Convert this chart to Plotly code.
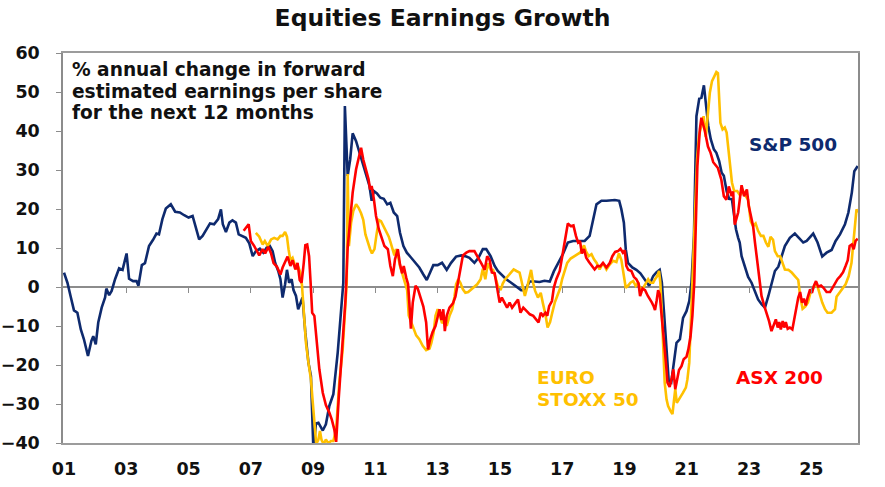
import plotly.graph_objects as go

# ---------------- data ----------------
sp500_year = [2001.00, 2001.11, 2001.21, 2001.32, 2001.43, 2001.54, 2001.64, 2001.77, 2001.88, 2001.94,
              2002.02, 2002.10, 2002.21, 2002.32, 2002.36, 2002.45, 2002.53, 2002.64, 2002.77, 2002.88,
              2003.01, 2003.09, 2003.22, 2003.33, 2003.39, 2003.50, 2003.60, 2003.73, 2003.86, 2003.97,
              2004.05, 2004.16, 2004.27, 2004.43, 2004.57, 2004.72, 2004.86, 2005.00, 2005.13, 2005.23,
              2005.34, 2005.45, 2005.55, 2005.69, 2005.82, 2005.95, 2006.04, 2006.10, 2006.20, 2006.31,
              2006.41, 2006.52, 2006.61, 2006.71, 2006.84, 2006.95, 2007.06, 2007.16, 2007.29, 2007.40,
              2007.51, 2007.61, 2007.70, 2007.78, 2007.88, 2007.95, 2008.02, 2008.10, 2008.16, 2008.23,
              2008.31, 2008.37, 2008.45, 2008.52, 2008.59, 2008.66, 2008.75, 2008.85, 2008.93, 2009.01,
              2009.09, 2009.17, 2009.31, 2009.41, 2009.52, 2009.65, 2009.79, 2009.90, 2009.97, 2010.02,
              2010.11, 2010.19, 2010.27, 2010.38, 2010.49, 2010.59, 2010.70, 2010.81, 2010.88, 2010.95,
              2011.05, 2011.16, 2011.27, 2011.38, 2011.48, 2011.59, 2011.70, 2011.79, 2011.90, 2012.01,
              2012.15, 2012.29, 2012.41, 2012.54, 2012.65, 2012.76, 2012.86, 2013.00, 2013.14, 2013.29,
              2013.43, 2013.59, 2013.76, 2013.92, 2014.02, 2014.18, 2014.31, 2014.45, 2014.56, 2014.70,
              2014.83, 2014.93, 2015.06, 2015.20, 2015.36, 2015.52, 2015.68, 2015.81, 2015.95, 2016.11,
              2016.27, 2016.43, 2016.60, 2016.73, 2016.86, 2017.02, 2017.18, 2017.35, 2017.56, 2017.72,
              2017.88, 2017.99, 2018.10, 2018.26, 2018.42, 2018.69, 2018.83, 2018.90, 2018.98, 2019.04,
              2019.11, 2019.25, 2019.38, 2019.51, 2019.65, 2019.79, 2019.92, 2020.03, 2020.13, 2020.20,
              2020.27, 2020.35, 2020.42, 2020.50, 2020.58, 2020.67, 2020.78, 2020.88, 2020.99, 2021.08,
              2021.15, 2021.23, 2021.31, 2021.40, 2021.47, 2021.55, 2021.61, 2021.69, 2021.77, 2021.87,
              2021.95, 2022.04, 2022.12, 2022.19, 2022.28, 2022.36, 2022.45, 2022.51, 2022.58, 2022.65,
              2022.70, 2022.76, 2022.87, 2022.97, 2023.08, 2023.19, 2023.29, 2023.40, 2023.51, 2023.62,
              2023.72, 2023.83, 2023.94, 2024.04, 2024.15, 2024.31, 2024.47, 2024.60, 2024.74, 2024.85,
              2025.06, 2025.20, 2025.35, 2025.49, 2025.65, 2025.78, 2025.92, 2026.08, 2026.19, 2026.30,
              2026.38, 2026.49]
sp500_val = [3.7, 1.1, -2.3, -6.0, -6.6, -10.9, -13.4, -17.7, -13.8, -12.6,
             -14.7, -9.1, -5.3, -2.7, -0.4, -2.1, -1.0, 2.0, 4.8, 4.4,
             8.6, 2.1, 1.5, 1.5, 0.3, 5.6, 6.1, 10.5, 12.1, 13.7,
             13.5, 17.4, 20.1, 21.2, 19.3, 19.1, 18.4, 17.8, 18.2, 15.6,
             12.2, 13.1, 14.4, 16.3, 16.1, 17.4, 19.9, 16.1, 14.1, 16.5,
             17.1, 16.5, 13.5, 13.1, 12.6, 11.2, 7.9, 9.2, 9.8, 8.8,
             10.1, 10.5, 9.2, 6.2, 4.1, 2.0, -2.7, 0.7, 4.4, 1.1,
             2.0, -0.8, -2.3, -5.7, -4.0, -2.7, -11.7, -19.4, -22.8, -42.0,
             -35.0, -34.8, -36.8, -35.2, -30.5, -27.5, -16.8, -5.7, 1.1, 46.4,
             28.5, 32.7, 39.4, 37.4, 34.4, 31.5, 28.5, 25.9, 22.1, 24.6,
             24.0, 22.9, 22.6, 21.2, 21.6, 19.1, 18.2, 13.9, 10.5, 8.8,
             7.5, 6.2, 5.0, 3.2, 1.8, 3.8, 5.6, 5.6, 6.2, 4.4,
             6.2, 7.8, 8.1, 7.8, 7.5, 6.2, 7.5, 9.7, 9.7, 7.9,
             5.4, 4.1, 3.0, 2.0, 1.1, 0.1, -0.8, -0.8, 1.4, 1.4,
             1.3, 1.6, 1.4, 4.0, 6.0, 8.4, 11.4, 11.8, 11.8, 11.8,
             13.1, 17.4, 21.2, 22.1, 22.1, 22.3, 22.1, 19.9, 16.5, 9.7,
             6.2, 5.0, 4.4, 3.5, 2.0, 0.3, 2.8, 3.8, 4.4, 1.1,
             -6.6, -15.1, -24.1, -24.5, -19.8, -14.3, -13.4, -7.9, -6.2, -3.6,
             1.1, 13.1, 43.8, 48.3, 48.5, 51.7, 47.3, 41.3, 37.9, 35.3,
             34.4, 32.3, 29.3, 28.5, 24.6, 22.6, 22.5, 19.1, 14.8, 12.6,
             11.4, 7.9, 5.4, 2.6, 1.1, -1.3, -3.2, -4.4, -5.3, -2.3,
             1.1, 4.1, 5.2, 7.9, 10.5, 12.6, 13.7, 12.6, 11.4, 11.8,
             13.7, 11.4, 7.8, 8.8, 9.5, 11.8, 13.5, 16.1, 19.1, 24.2,
             29.7, 31.0]

asx200_year = [2006.77, 2006.93, 2007.00, 2007.11, 2007.27, 2007.38, 2007.46, 2007.56, 2007.65, 2007.73,
               2007.84, 2007.95, 2008.02, 2008.10, 2008.18, 2008.27, 2008.34, 2008.43, 2008.50, 2008.57,
               2008.63, 2008.70, 2008.75, 2008.81, 2008.87, 2008.92, 2008.97, 2009.04, 2009.10, 2009.20,
               2009.31, 2009.41, 2009.52, 2009.60, 2009.68, 2009.74, 2009.82, 2009.90, 2009.97, 2010.04,
               2010.11, 2010.19, 2010.27, 2010.38, 2010.46, 2010.54, 2010.61, 2010.70, 2010.78, 2010.83,
               2010.88, 2010.95, 2011.02, 2011.11, 2011.20, 2011.29, 2011.40, 2011.48, 2011.56, 2011.63,
               2011.72, 2011.79, 2011.86, 2011.91, 2011.99, 2012.05, 2012.09, 2012.14, 2012.20, 2012.29,
               2012.36, 2012.44, 2012.54, 2012.63, 2012.69, 2012.76, 2012.84, 2012.93, 2013.00, 2013.06,
               2013.12, 2013.18, 2013.23, 2013.29, 2013.38, 2013.49, 2013.57, 2013.65, 2013.72, 2013.81,
               2013.92, 2014.02, 2014.18, 2014.31, 2014.42, 2014.51, 2014.59, 2014.67, 2014.74, 2014.83,
               2014.93, 2014.99, 2015.06, 2015.15, 2015.23, 2015.31, 2015.39, 2015.49, 2015.58, 2015.66,
               2015.75, 2015.86, 2015.96, 2016.07, 2016.18, 2016.24, 2016.31, 2016.38, 2016.46, 2016.52,
               2016.58, 2016.67, 2016.73, 2016.81, 2016.92, 2017.00, 2017.08, 2017.18, 2017.27, 2017.36,
               2017.44, 2017.51, 2017.57, 2017.63, 2017.70, 2017.77, 2017.86, 2017.96, 2018.04, 2018.13,
               2018.22, 2018.31, 2018.42, 2018.53, 2018.61, 2018.70, 2018.79, 2018.87, 2018.95, 2019.01,
               2019.06, 2019.12, 2019.22, 2019.30, 2019.38, 2019.45, 2019.50, 2019.58, 2019.66, 2019.75,
               2019.81, 2019.88, 2019.94, 2019.98, 2020.03, 2020.08, 2020.13, 2020.20, 2020.26, 2020.33,
               2020.38, 2020.45, 2020.52, 2020.57, 2020.63, 2020.68, 2020.75, 2020.83, 2020.90, 2020.99,
               2021.05, 2021.12, 2021.18, 2021.24, 2021.29, 2021.34, 2021.42, 2021.47, 2021.58, 2021.68,
               2021.76, 2021.85, 2022.00, 2022.11, 2022.19, 2022.27, 2022.35, 2022.44, 2022.49, 2022.54,
               2022.65, 2022.76, 2022.84, 2022.93, 2022.99, 2023.06, 2023.13, 2023.19, 2023.24, 2023.29,
               2023.35, 2023.40, 2023.49, 2023.56, 2023.64, 2023.72, 2023.80, 2023.86, 2023.92, 2023.97,
               2024.02, 2024.08, 2024.13, 2024.18, 2024.24, 2024.31, 2024.39, 2024.45, 2024.53, 2024.58,
               2024.64, 2024.70, 2024.76, 2024.82, 2024.88, 2024.96, 2025.02, 2025.08, 2025.15, 2025.22,
               2025.31, 2025.39, 2025.49, 2025.60, 2025.68, 2025.76, 2025.84, 2025.93, 2026.02, 2026.10,
               2026.17, 2026.23, 2026.30, 2026.36, 2026.42, 2026.49]
asx200_val = [14.4, 16.1, 11.8, 10.5, 8.1, 9.7, 8.6, 10.3, 8.6, 6.1,
              5.2, 3.2, 5.0, 6.4, 7.8, 5.4, 6.9, 4.5, 6.2, 1.8,
              1.1, 6.2, 10.7, 10.9, 7.9, 1.1, -6.6, -7.4, -13.4, -21.1,
              -27.1, -30.3, -32.2, -34.0, -36.5, -39.7, -28.8, -20.3, -12.6, -3.2,
              10.1, 17.4, 24.2, 30.2, 32.7, 35.7, 32.7, 29.7, 27.6, 25.0,
              25.9, 22.6, 18.2, 14.8, 12.6, 10.5, 9.7, 5.4, 2.8, 7.1,
              9.7, 5.8, 3.5, 5.4, 2.4, 0.7, -4.0, -10.7, -4.0, 0.3,
              -0.4, -2.5, -5.0, -9.1, -16.0, -13.4, -11.5, -10.0, -7.4, -5.7,
              -8.5, -5.7, -11.3, -7.4, -5.3, -4.2, -2.5, 1.1, 4.5, 8.1,
              8.8, 9.2, 9.2, 7.5, 5.8, 4.4, 7.9, 6.9, 3.7, 3.5,
              -1.0, -4.0, -2.7, -4.2, -5.3, -4.0, -5.3, -4.2, -3.2, -6.6,
              -5.3, -6.2, -7.0, -7.4, -8.5, -9.1, -6.6, -7.4, -6.6, -7.4,
              -4.9, -3.6, -0.2, 2.0, 4.1, 7.9, 12.6, 16.3, 15.6, 15.8,
              13.1, 11.4, 11.8, 8.6, 9.7, 7.5, 6.4, 5.2, 4.5, 5.4,
              5.3, 6.2, 5.0, 6.2, 7.9, 9.0, 9.2, 9.8, 8.8, 9.4,
              5.4, 4.4, 4.1, 2.6, 2.0, 0.9, -2.3, -0.4, -0.8, -2.3,
              -3.0, -4.0, -5.0, -5.9, -3.6, -0.8, -1.9, -7.4, -13.4, -19.4,
              -24.5, -25.6, -23.2, -21.1, -26.2, -24.5, -21.3, -20.3, -18.5, -17.9,
              -16.0, -12.7, -7.4, 1.1, 18.2, 31.0, 40.4, 43.4, 40.0, 36.0,
              34.5, 32.0, 30.5, 27.5, 23.3, 22.4, 25.8, 23.3, 24.5, 16.0,
              19.1, 26.1, 23.3, 25.0, 20.8, 18.2, 15.6, 11.4, 7.9, 4.5,
              1.1, -2.3, -4.9, -6.6, -8.7, -11.3, -9.6, -8.3, -10.4, -9.0,
              -10.9, -8.7, -10.4, -9.0, -10.7, -10.4, -10.9, -8.3, -4.9, -2.7,
              -1.3, -4.0, -3.0, -4.7, -2.7, -0.6, -1.5, 0.3, 1.5, 0.1,
              0.4, -0.2, -1.3, -1.3, -0.2, 0.9, 2.0, 2.8, 3.8, 5.4,
              6.9, 10.5, 10.9, 9.7, 11.8, 12.4]

eurostoxx_year = [2007.16, 2007.27, 2007.38, 2007.45, 2007.54, 2007.65, 2007.75, 2007.86, 2007.95, 2008.02,
                  2008.10, 2008.16, 2008.21, 2008.27, 2008.34, 2008.40, 2008.46, 2008.52, 2008.59, 2008.64,
                  2008.70, 2008.77, 2008.85, 2008.93, 2008.99, 2009.05, 2009.10, 2009.17, 2009.22, 2009.27,
                  2009.34, 2009.41, 2009.49, 2009.57, 2009.65, 2009.74, 2009.84, 2009.95, 2010.02, 2010.08,
                  2010.11, 2010.15, 2010.22, 2010.29, 2010.38, 2010.46, 2010.54, 2010.61, 2010.68, 2010.75,
                  2010.83, 2010.89, 2010.97, 2011.03, 2011.11, 2011.18, 2011.26, 2011.34, 2011.43, 2011.49,
                  2011.56, 2011.61, 2011.66, 2011.73, 2011.79, 2011.88, 2011.96, 2012.02, 2012.07, 2012.15,
                  2012.22, 2012.31, 2012.41, 2012.52, 2012.63, 2012.74, 2012.80, 2012.87, 2012.93, 2013.00,
                  2013.07, 2013.14, 2013.22, 2013.29, 2013.38, 2013.47, 2013.54, 2013.59, 2013.66, 2013.73,
                  2013.81, 2013.89, 2013.98, 2014.13, 2014.27, 2014.38, 2014.45, 2014.53, 2014.61, 2014.70,
                  2014.78, 2014.87, 2014.93, 2015.02, 2015.09, 2015.17, 2015.26, 2015.34, 2015.44, 2015.53,
                  2015.63, 2015.68, 2015.75, 2015.80, 2015.88, 2015.95, 2016.00, 2016.07, 2016.13, 2016.22,
                  2016.31, 2016.38, 2016.46, 2016.53, 2016.61, 2016.68, 2016.76, 2016.84, 2016.93, 2017.00,
                  2017.08, 2017.16, 2017.27, 2017.38, 2017.48, 2017.57, 2017.65, 2017.70, 2017.76, 2017.85,
                  2017.94, 2018.02, 2018.11, 2018.20, 2018.31, 2018.42, 2018.53, 2018.63, 2018.74, 2018.82,
                  2018.90, 2018.98, 2019.04, 2019.11, 2019.19, 2019.28, 2019.36, 2019.44, 2019.51, 2019.60,
                  2019.68, 2019.76, 2019.83, 2019.92, 2019.98, 2020.05, 2020.11, 2020.15, 2020.20, 2020.24,
                  2020.29, 2020.35, 2020.40, 2020.48, 2020.54, 2020.58, 2020.63, 2020.68, 2020.74, 2020.81,
                  2020.88, 2020.97, 2021.02, 2021.08, 2021.12, 2021.17, 2021.23, 2021.28, 2021.33, 2021.39,
                  2021.46, 2021.54, 2021.61, 2021.68, 2021.74, 2021.81, 2021.88, 2021.95, 2022.00, 2022.04,
                  2022.08, 2022.15, 2022.22, 2022.28, 2022.33, 2022.38, 2022.45, 2022.52, 2022.62, 2022.71,
                  2022.81, 2022.89, 2022.97, 2023.05, 2023.13, 2023.21, 2023.29, 2023.38, 2023.46, 2023.54,
                  2023.62, 2023.69, 2023.77, 2023.83, 2023.92, 2024.00, 2024.07, 2024.15, 2024.26, 2024.37,
                  2024.47, 2024.58, 2024.64, 2024.72, 2024.81, 2024.89, 2024.97, 2025.05, 2025.14, 2025.20,
                  2025.28, 2025.35, 2025.44, 2025.52, 2025.65, 2025.76, 2025.81, 2025.90, 2025.99, 2026.10,
                  2026.20, 2026.29, 2026.37, 2026.45, 2026.50]
eurostoxx_val = [13.9, 12.9, 10.9, 11.8, 10.5, 12.2, 12.6, 12.2, 13.1, 13.1,
                 14.1, 12.9, 9.7, 6.9, 7.5, 6.2, 4.5, 5.2, 3.7, 0.7,
                 -7.4, -14.3, -19.4, -23.7, -29.7, -36.5, -40.3, -39.1, -36.9, -39.2,
                 -40.3, -39.1, -40.1, -39.5, -39.5, -36.5, -24.5, -16.0, -6.2, 1.1,
                 29.0, 10.5, 16.5, 19.5, 21.2, 20.3, 18.9, 17.2, 13.5, 11.5,
                 9.7, 8.6, 9.7, 13.1, 17.2, 16.9, 15.6, 14.4, 12.9, 11.4,
                 9.0, 8.1, 9.7, 7.8, 5.4, 2.8, 1.1, -0.8, -7.3, -9.1,
                 -10.9, -12.4, -13.4, -15.1, -16.2, -15.8, -14.3, -11.7, -7.4, -5.7,
                 -7.3, -9.3, -8.1, -10.0, -7.4, -5.7, -2.5, 0.7, 2.0, 1.1,
                 -0.6, -1.5, -1.3, -0.2, 0.7, 2.0, 4.7, 2.0, 6.1, 4.5,
                 4.4, 2.1, 0.3, -0.8, 0.9, 2.0, 2.8, 3.7, 4.5, 4.1,
                 3.7, 2.0, -0.8, -2.3, 0.1, 2.8, 4.4, 0.9, -1.0, -2.7,
                 -1.5, -4.2, -7.0, -10.4, -9.0, -6.6, -4.0, -2.3, -0.4, 2.1,
                 4.5, 6.2, 7.3, 7.9, 8.4, 8.8, 9.8, 10.7, 9.2, 7.9,
                 8.4, 7.1, 6.1, 4.5, 6.1, 4.5, 5.8, 6.7, 6.4, 8.6,
                 6.9, 2.8, -0.2, 0.3, 1.1, 1.5, 0.3, 1.1, -0.6, -0.2,
                 1.1, 2.0, 1.1, 1.1, 2.0, 2.8, 4.1, 1.1, -6.6, -16.0,
                 -24.5, -28.8, -30.5, -31.8, -32.6, -29.7, -26.2, -29.7, -28.8, -27.9,
                 -27.1, -25.8, -23.7, -19.4, -10.9, -0.6, 9.7, 22.5, 32.7, 38.7,
                 41.3, 43.8, 38.5, 43.8, 49.8, 52.8, 54.1, 55.1, 54.8, 48.1,
                 42.1, 40.4, 40.9, 39.6, 36.2, 31.9, 26.8, 24.6, 24.6, 23.5,
                 24.6, 23.3, 22.4, 16.9, 15.6, 16.3, 14.4, 13.1, 13.1, 11.4,
                 10.3, 12.9, 12.1, 9.2, 7.9, 7.9, 6.2, 4.5, 4.4, 3.7,
                 2.8, 1.8, -2.3, -5.6, -5.0, -4.0, -1.5, -0.2, 0.9, 0.1,
                 -2.3, -4.0, -5.7, -6.6, -6.6, -5.7, -2.5, -1.5, -0.6, 0.7,
                 2.8, 6.2, 13.1, 19.9, 19.1]

tick_years = [2001, 2003, 2005, 2007, 2009, 2011, 2013, 2015, 2017, 2019, 2021, 2023, 2025]
tick_labels = ["01", "03", "05", "07", "09", "11", "13", "15", "17", "19", "21", "23", "25"]
y_ticks = [-40, -30, -20, -10, 0, 10, 20, 30, 40, 50, 60]

NAVY = "#0E2A6E"
RED = "#FF0000"
GOLD = "#FFC000"
FONT = "DejaVu Sans"

fig = go.Figure()
fig.add_trace(go.Scatter(x=sp500_year, y=sp500_val, mode="lines", name="S&P 500",
                         line=dict(color=NAVY, width=2.6), hoverinfo="skip", showlegend=False))
fig.add_trace(go.Scatter(x=eurostoxx_year, y=eurostoxx_val, mode="lines", name="EURO STOXX 50",
                         line=dict(color=GOLD, width=2.6), hoverinfo="skip", showlegend=False))
fig.add_trace(go.Scatter(x=asx200_year, y=asx200_val, mode="lines", name="ASX 200",
                         line=dict(color=RED, width=2.6), hoverinfo="skip", showlegend=False))
# helper trace so the tick-mark axis on the zero line is drawn
fig.add_trace(go.Scatter(x=[sp500_year[0]], y=[None], xaxis="x2", mode="lines",
                         hoverinfo="skip", showlegend=False))

W, H = 885, 487
L, R, T, B = 63, 27, 53, 44
pw, ph = W - L - R, H - T - B


def px(x):
    return (x - L) / pw


def py(y):
    return (H - B - y) / ph


fig.update_layout(
    width=W, height=H,
    margin=dict(l=L, r=R, t=T, b=B, autoexpand=False),
    paper_bgcolor="white", plot_bgcolor="white",
    title=dict(text="<b>Equities Earnings Growth</b>", x=0.5, xref="container", xanchor="center",
               y=1 - 18 / H, yref="container", yanchor="middle",
               font=dict(family=FONT, size=23.5, color="#111111")),
    xaxis=dict(range=[2001 - 1 / 31.1, 2001 + 793 / 31.1], tickmode="array",
               tickvals=tick_years, ticktext=tick_labels, ticks="", automargin=False,
               showline=True, mirror=True, linecolor="#9c9c9c", linewidth=1.5,
               showgrid=False, zeroline=False, ticklabelstandoff=9,
               tickfont=dict(family=FONT, size=17.5, color="#111111", weight="bold")),
    xaxis2=dict(overlaying="x", matches="x", anchor="free", position=0.4, side="bottom",
                tickmode="array", tickvals=tick_years[1:], ticks="outside", ticklen=5,
                tickwidth=1, tickcolor="#8c8c8c", showticklabels=False, showline=False,
                showgrid=False, zeroline=False, automargin=False),
    yaxis=dict(range=[-40, 60], tickmode="array", tickvals=y_ticks, ticks="outside",
               ticklen=5, tickcolor="#8c8c8c", showline=True, mirror=True, automargin=False,
               linecolor="#8c8c8c", linewidth=1.5, showgrid=False, zeroline=True,
               zerolinecolor="#8c8c8c", zerolinewidth=1.5, ticklabelstandoff=13,
               tickfont=dict(family=FONT, size=17.5, color="#111111", weight="bold")),
)

note_lines = ["% annual change in forward", "estimated earnings per share", "for the next 12 months"]
for i, (line, yc) in enumerate(zip(note_lines, [70, 91, 112])):
    fig.add_annotation(text="<b>" + line + "</b>", xref="paper", yref="paper",
                       x=px(70), y=py(yc), xanchor="left", yanchor="middle", showarrow=False,
                       font=dict(family=FONT, size=18.6, color="#111111"))

fig.add_annotation(text="<b>S&P 500</b>", xref="paper", yref="paper", x=px(793), y=py(144.5),
                   xanchor="center", yanchor="middle", showarrow=False,
                   font=dict(family=FONT, size=18.5, color=NAVY))
fig.add_annotation(text="<b>ASX 200</b>", xref="paper", yref="paper", x=px(779), y=py(377),
                   xanchor="center", yanchor="middle", showarrow=False,
                   font=dict(family=FONT, size=18.5, color=RED))
fig.add_annotation(text="<b>EURO</b>", xref="paper", yref="paper", x=px(535), y=py(377),
                   xanchor="left", yanchor="middle", showarrow=False,
                   font=dict(family=FONT, size=18.5, color=GOLD))
fig.add_annotation(text="<b>STOXX 50</b>", xref="paper", yref="paper", x=px(535), y=py(399),
                   xanchor="left", yanchor="middle", showarrow=False,
                   font=dict(family=FONT, size=18.5, color=GOLD))

fig.write_html("out.html")
